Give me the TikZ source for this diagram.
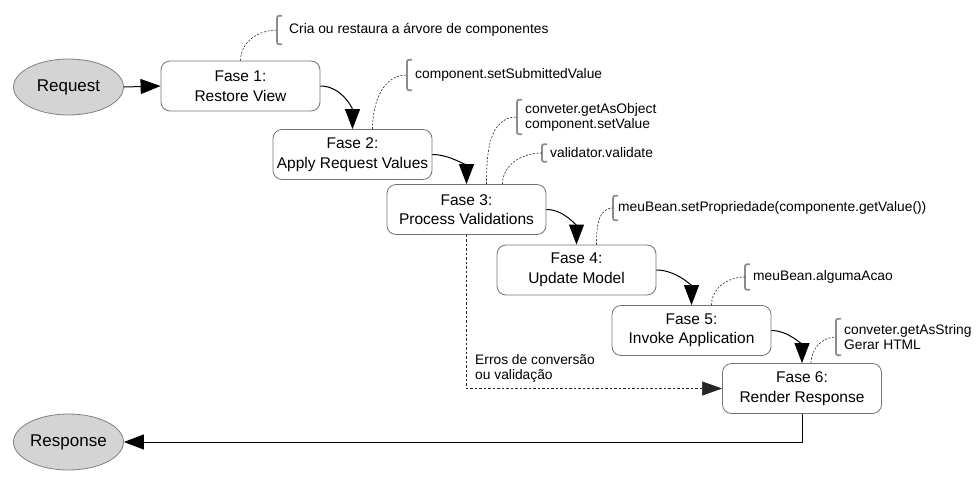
\documentclass[tikz,border=0pt]{standalone}
\usepackage{fontspec}
\setmainfont{Liberation Sans}
\usetikzlibrary{arrows.meta,shapes.geometric}
\begin{document}
\begin{tikzpicture}[x=1pt,y=1pt,
  phase/.style={draw=black!55, line width=0.8pt, rounded corners=9pt, minimum width=159pt, minimum height=50pt, inner sep=0pt, align=center, font=\fontsize{15.5}{19.5}\selectfont},
  term/.style={ellipse, draw=black!50, fill=black!17, line width=0.8pt, minimum width=110pt, minimum height=56pt, inner sep=0pt, font=\fontsize{17}{20}\selectfont},
  note/.style={anchor=west, inner xsep=8pt, inner ysep=0pt, minimum height=27pt, align=left, font=\fontsize{13.8}{15}\selectfont},
  flow/.style={line width=1pt, -{Triangle[length=20pt,width=15pt]}},
  notelink/.style={black!85, line width=0.6pt, dash pattern=on 2pt off 1.6pt},
  errlink/.style={black!85, line width=0.6pt, dash pattern=on 2.5pt off 2pt, -{Triangle[length=20pt,width=14pt]}},
  bracket/.style={black!45, line width=1.8pt, rounded corners=2pt},
  ]
\useasboundingbox (0,0) rectangle (980,-480);

% terminals
\node[term] (req) at (68.5,-87) {Request};
\node[term] (resp) at (68.5,-442) {Response};

% phases
\node[phase] (b1) at (240.5,-86) {Fase 1:\\Restore View};
\node[phase] (b2) at (352.5,-154.5) {Fase 2:\\Apply Request Values};
\node[phase] (b3) at (466.5,-209.5) {Fase 3:\\Process Validations};
\node[phase] (b4) at (576.5,-270) {Fase 4:\\Update Model};
\node[phase] (b5) at (691.5,-330.5) {Fase 5:\\Invoke Application};
\node[phase] (b6) at (802,-388.5) {Fase 6:\\Render Response};

% flow
\draw[flow] (req.east) -- (b1.west);
\draw[flow] (b1.east) to[out=0,in=90] (b2.north);
\draw[flow] (b2.east) to[out=0,in=90] (b3.north);
\draw[flow] (b3.east) to[out=0,in=90] (b4.north);
\draw[flow] (b4.east) to[out=0,in=90] (b5.north);
\draw[flow] (b5.east) to[out=0,in=90] (b6.north);
\draw[flow] (b6.south) |- (resp.east);

% error path
\draw[errlink] (b3.south) |- (b6.west);
\node[anchor=west, inner sep=0pt, align=left, font=\fontsize{13.8}{15}\selectfont] (err) at (475,-368) {Erros de conversão\\ou validação};

% notes
\node[note, inner xsep=12pt, minimum height=28pt] (a1) at (277,-30) {Cria ou restaura a árvore de componentes};
\node[note, minimum height=30pt] (a2) at (407,-75) {component.setSubmittedValue};
\node[note, minimum height=34pt] (a3) at (517,-117) {conveter.getAsObject\\component.setValue};
\node[note, minimum height=17pt] (a3b) at (542,-153) {validator.validate};
\node[note, inner xsep=5pt, minimum height=24pt] (a4) at (613,-208) {meuBean.setPropriedade(componente.getValue())};
\node[note, minimum height=25pt] (a5) at (745,-277) {meuBean.algumaAcao};
\node[note, minimum height=36pt] (a6) at (836,-337) {conveter.getAsString\\Gerar HTML};

\foreach \n in {a1,a2,a3,a3b,a4,a5,a6}{
  \draw[bracket] ([xshift=5pt]\n.north west) -- (\n.north west) -- (\n.south west) -- ([xshift=5pt]\n.south west);
}

\draw[notelink] (b1.north) to[out=90,in=180] (a1.west);
\draw[notelink] ([xshift=20pt]b2.north) to[out=90,in=180] (a2.west);
\draw[notelink] ([xshift=20pt]b3.north) to[out=90,in=180] (a3.west);
\draw[notelink] ([xshift=36pt]b3.north) to[out=90,in=180] (a3b.west);
\draw[notelink] ([xshift=20pt]b4.north) to[out=90,in=180] (a4.west);
\draw[notelink] ([xshift=20pt]b5.north) to[out=90,in=180] (a5.west);
\draw[notelink] ([xshift=9pt]b6.north) to[out=90,in=180] (a6.west);
\end{tikzpicture}
\end{document}
